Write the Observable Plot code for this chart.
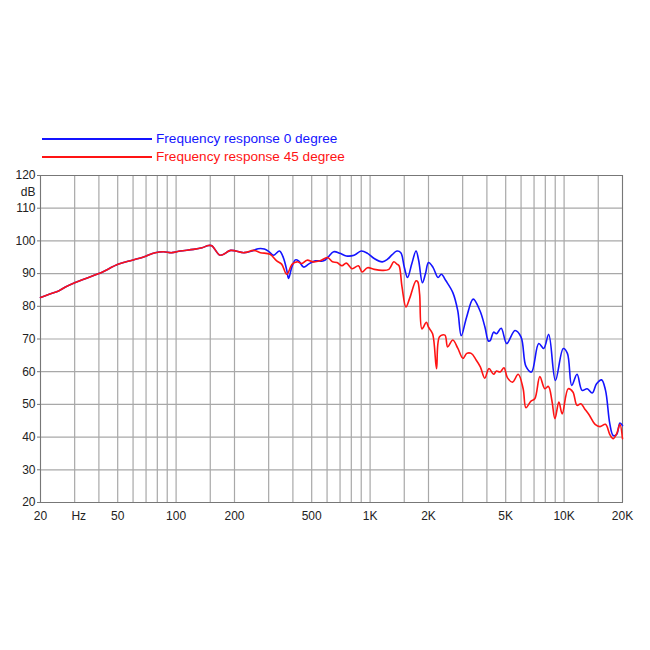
<!DOCTYPE html>
<html>
<head>
<meta charset="utf-8">
<script src="https://cdn.jsdelivr.net/npm/d3@7"></script>
<script src="https://cdn.jsdelivr.net/npm/@observablehq/plot@0.6"></script>
<style>
  html, body { margin: 0; padding: 0; background: #fff; }
  #wrap { position: relative; width: 650px; height: 650px; font-family: Arial, "Liberation Sans", sans-serif; }
  .lg-row { position: absolute; left: 42px; height: 16px; }
  .lg-line { position: absolute; left: 0; top: 7px; width: 110px; height: 2px; }
  .lg-text { position: absolute; left: 114px; top: 0; line-height: 16px; font-size: 13.6px; white-space: nowrap; }
</style>
</head>
<body>
<div id="wrap"></div>
<script>
// ---- data ----
const freq0 = [20, 22, 24.8, 26.9, 30, 33.4, 40, 50.6, 59.4, 68, 78, 86, 95, 105, 123, 136, 147, 153, 169, 191, 224, 251,
  265, 285, 300, 318, 341, 357, 372, 380, 395, 412, 428, 454, 482, 522, 576, 610, 649, 700, 754, 827, 900, 970, 1050, 1155,
  1230, 1300, 1375, 1440, 1500, 1560, 1640, 1725, 1780, 1860, 1930, 2000, 2110, 2240, 2330, 2460, 2670, 2830, 2950, 3140,
  3400, 3680, 3910, 4070, 4160, 4330, 4480, 4740, 5060, 5580, 6000, 6360, 6790, 7400, 7850, 8330, 9020, 9900, 10400,
  10950, 11660, 12380, 13150, 13960, 14700, 15600, 16350, 17200, 17900, 18650, 19400, 20000];
const db0 = [82.7, 83.6, 84.7, 85.9, 87.2, 88.3, 90, 92.9, 94.1, 95.1, 96.4, 96.7, 96.4, 96.9, 97.4, 97.9, 98.6, 98.5, 95.6, 97.1, 96.4, 97.1,
  97.6, 97.5, 96.8, 95.6, 96.9, 94.9, 91, 88.5, 92, 94.2, 93.9, 92.0, 92.9, 93.9, 93.9, 95.2, 96.7, 96.2, 95.4, 95.6, 96.9, 96.2, 94.6, 93.6,
  94.4, 95.8, 96.9, 96.4, 92, 88.8, 93, 96.9, 94, 87.2, 90, 93.4, 91.9, 88.8, 89.8, 87.8, 84.2, 78.7, 71.0, 76.6,
  82.2, 78.7, 73.6, 69.4, 69.5, 72.1, 71.6, 73.3, 68.6, 72.6, 70.6, 61.6, 59.9, 68.6, 67.1, 71.4, 57.3, 67.1, 65.6,
  55.8, 59.2, 54.3, 54.8, 53.5, 56.3, 57.5, 54.3, 44.1, 40.5, 40.8, 44.3, 43.5];

const freq45 = [20, 22, 24.8, 26.9, 30, 33.4, 40, 50.6, 59.4, 68, 78, 86, 95, 105, 123, 136, 147, 153, 169, 191, 224, 251,
  272, 305, 330, 350, 372, 397, 420, 445, 473, 510, 552, 603, 640, 675, 716, 754, 808, 870, 910, 970, 1050, 1155, 1250,
  1325, 1375, 1410, 1460, 1530, 1600, 1725, 1760, 1800, 1850, 1950, 2000, 2100, 2200, 2280, 2430, 2510, 2670, 2830,
  3010, 3150, 3320, 3520, 3700, 3900, 4100, 4330, 4480, 4680, 4900, 5100, 5420, 5800, 6150, 6360, 6750, 7060, 7500,
  7950, 8300, 8650, 8970, 9400, 9780, 10500, 11100, 11650, 12200, 12750, 13500, 14450, 15300, 16350, 17200, 17900,
  18650, 19400, 20000];
const db45 = [82.7, 83.6, 84.7, 85.9, 87.2, 88.3, 90, 92.9, 94.1, 95.1, 96.4, 96.7, 96.4, 96.9, 97.4, 97.9, 98.6, 98.5, 95.6, 97.1, 96.4, 97.1,
  96.4, 95.9, 93.9, 92.9, 89.8, 92.9, 93.6, 93.1, 94.1, 93.6, 93.9, 94.9, 93.6, 93.4, 92.4, 93.2, 91.5, 92.4, 90.5, 91.8, 91.3, 91.0, 91.3,
  93.6, 92.9, 92.4, 86, 79.8, 82.5, 87.8, 87.5, 83.7, 73.1, 75.1, 73.6, 71.6, 60.9, 70.7, 71.2, 67.6, 69.7, 67.2,
  64.1, 65.6, 65.6, 63.6, 61.5, 58.0, 61.0, 59.2, 60.2, 59.9, 61.2, 58.2, 56.8, 59.2, 54.8, 49.0, 51.0, 51.7, 58.5,
  54.8, 55.5, 51.2, 45.6, 50.7, 47.1, 54.8, 53.8, 49.7, 50.2, 48.7, 46.7, 43.9, 43.2, 43.9, 40.8, 39.5,
  41.0, 43.9, 39.5];

const gridFreqs = [20, 30, 40, 50, 60, 70, 80, 90, 100, 150, 200, 300, 400, 500, 600, 700, 800, 900, 1000, 1500,
  2000, 3000, 4000, 5000, 6000, 7000, 8000, 9000, 10000, 15000, 20000];
const xTickValues = [20, 31.5, 50, 100, 200, 500, 1000, 2000, 5000, 10000, 20000];
const xTickLabels = ["20", "Hz", "50", "100", "200", "500", "1K", "2K", "5K", "10K", "20K"];
const yTickValues = [20, 30, 40, 50, 60, 70, 80, 90, 100, 110, 120];
const unitY = {label: "dB", at: 115};
const seriesNames = ["Frequency response 0 degree", "Frequency response 45 degree"];
const seriesColors = ["#1414ff", "#ff1414"];

// ---- build ----
const s0 = freq0.map((f, i) => ({f, db: db0[i]}));
const s45 = freq45.map((f, i) => ({f, db: db45[i]}));
const xLabels = xTickValues.map((v, i) => ({v, label: xTickLabels[i]}));
const gridColor = "#a8a8a8";
const textColor = "#222";

const chart = Plot.plot({
  width: 650,
  height: 650,
  marginLeft: 40,
  marginRight: 28,
  marginTop: 175,
  marginBottom: 148,
  style: {fontFamily: 'Arial, "Liberation Sans", sans-serif', fontSize: "12px", color: textColor, background: "#fff"},
  x: {type: "log", domain: [20, 20000], axis: null},
  y: {domain: [20, 120], axis: null},
  marks: [
    Plot.ruleX(gridFreqs, {stroke: gridColor, strokeWidth: 1.2}),
    Plot.ruleY(yTickValues, {stroke: gridColor, strokeWidth: 1.2}),
    Plot.frame({stroke: "#777", strokeWidth: 1}),
    Plot.text(xLabels, {x: "v", y: 20, text: "label", dy: 14, fill: textColor, fontSize: 12}),
    Plot.axisY({ticks: yTickValues, tickSize: 3, tickPadding: 2, label: null, fontSize: 12, fill: textColor, stroke: "#777"}),
    Plot.text([unitY], {x: 20, y: "at", text: "label", textAnchor: "end", dx: -5, fill: textColor, fontSize: 12}),
    Plot.line(s0, {x: "f", y: "db", stroke: seriesColors[0], strokeWidth: 1.6, curve: "catmull-rom"}),
    Plot.line(s45, {x: "f", y: "db", stroke: seriesColors[1], strokeWidth: 1.6, curve: "catmull-rom"})
  ]
});

const wrap = document.getElementById("wrap");
wrap.appendChild(chart);

// legend (HTML, above the plot area)
seriesNames.forEach((name, i) => {
  const row = document.createElement("div");
  row.className = "lg-row";
  row.style.top = (131 + i * 18) + "px";
  const line = document.createElement("div");
  line.className = "lg-line";
  line.style.background = seriesColors[i];
  const txt = document.createElement("div");
  txt.className = "lg-text";
  txt.style.color = seriesColors[i];
  txt.textContent = name;
  row.appendChild(line);
  row.appendChild(txt);
  wrap.appendChild(row);
});
</script>
</body>
</html>
